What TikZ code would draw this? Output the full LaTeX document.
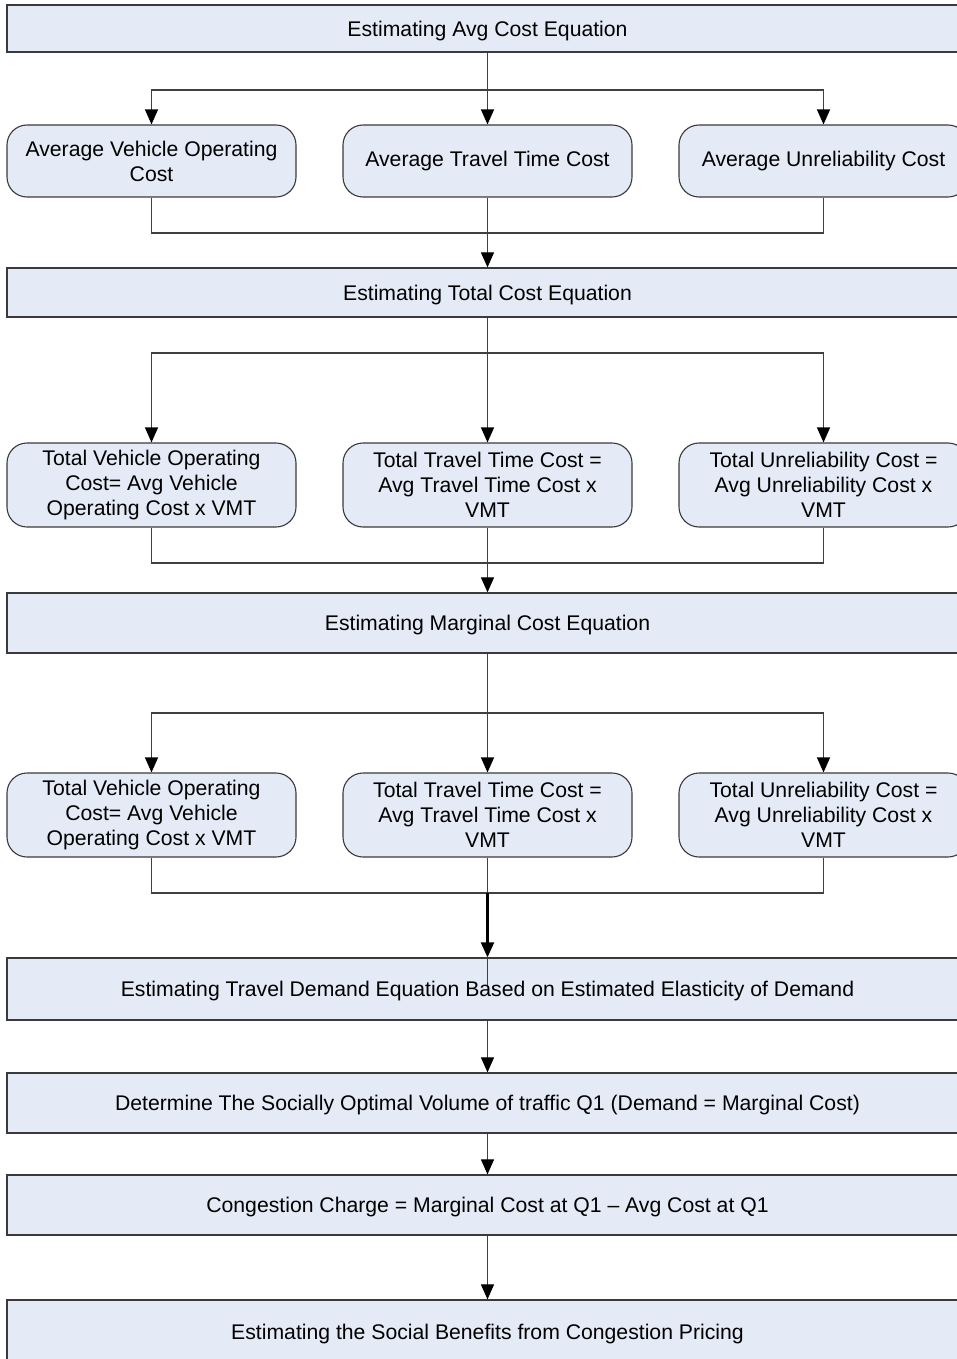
\documentclass[tikz,border=0pt]{standalone}
\usepackage{fontspec}
\setmainfont{Liberation Sans}
\usetikzlibrary{arrows.meta}
\definecolor{boxfill}{HTML}{E4EBF6}
\definecolor{boxline}{HTML}{3A3A3A}
\definecolor{conn}{HTML}{404040}
\begin{document}
\begin{tikzpicture}[x=1pt,y=-1pt,
  every node/.style={font=\fontsize{21.2}{25}\selectfont, text=black},
  rectbox/.style={draw=boxline, fill=boxfill, line width=1.3pt, rectangle, minimum width=961pt, inner sep=0pt, text depth=0pt},
  roundbox/.style={draw=boxline, fill=boxfill, line width=1.1pt, rounded corners=20pt, minimum width=289pt, inner sep=0pt, align=center},
  link/.style={draw=conn, line width=1.2pt},
  arr/.style={link, -{Triangle[width=13pt,length=15pt,black]}},
  thickarr/.style={draw=black, line width=2.2pt, -{Triangle[width=13pt,length=15pt,black]}}
]
\useasboundingbox (0,0) rectangle (957,1359);

% main rectangular boxes
\node[rectbox, minimum height=47pt] (A) at (487.5,28.5) {Estimating Avg Cost Equation};
\node[rectbox, minimum height=49pt] (B) at (487.5,292.5) {Estimating Total Cost Equation};
\node[rectbox, minimum height=60pt] (C) at (487.5,623) {Estimating Marginal Cost Equation};
\node[rectbox, minimum height=62pt] (D) at (487.5,989) {Estimating Travel Demand Equation Based on Estimated Elasticity of Demand};
\node[rectbox, minimum height=60pt] (E) at (487.5,1103) {Determine The Socially Optimal Volume of traffic Q1 (Demand = Marginal Cost)};
\node[rectbox, minimum height=60pt] (F) at (487.5,1205) {Congestion Charge = Marginal Cost at Q1 -- Avg Cost at Q1};
\node[rectbox, minimum height=64pt] (G) at (487.5,1332) {Estimating the Social Benefits from Congestion Pricing};

% row 1
\node[roundbox, minimum height=72pt] (r1a) at (151.5,161) {Average Vehicle Operating\\Cost};
\node[roundbox, minimum height=72pt] (r1b) at (487.5,161) {Average Travel Time Cost};
\node[roundbox, minimum height=72pt] (r1c) at (823.5,161) {Average Unreliability Cost};

% row 2
\node[roundbox, minimum height=84pt] (r2a) at (151.5,485) {Total Vehicle Operating\\Cost= Avg Vehicle\\Operating Cost x VMT};
\node[roundbox, minimum height=84pt] (r2b) at (487.5,485) {Total Travel Time Cost =\\Avg Travel Time Cost x\\VMT};
\node[roundbox, minimum height=84pt] (r2c) at (823.5,485) {Total Unreliability Cost =\\Avg Unreliability Cost x\\VMT};

% row 3
\node[roundbox, minimum height=84pt] (r3a) at (151.5,815) {Total Vehicle Operating\\Cost= Avg Vehicle\\Operating Cost x VMT};
\node[roundbox, minimum height=84pt] (r3b) at (487.5,815) {Total Travel Time Cost =\\Avg Travel Time Cost x\\VMT};
\node[roundbox, minimum height=84pt] (r3c) at (823.5,815) {Total Unreliability Cost =\\Avg Unreliability Cost x\\VMT};

% junction coordinates
\coordinate (s1) at (487.5,90);
\coordinate (m1) at (487.5,233);
\coordinate (s2) at (487.5,353);
\coordinate (m2) at (487.5,563);
\coordinate (s3) at (487.5,713);
\coordinate (m3) at (487.5,893);
\coordinate (din) at (487.5,985);

% split 1
\draw[link] (A.south) -- (s1);
\draw[arr] (s1) -| (r1a.north);
\draw[arr] (s1) -- (r1b.north);
\draw[arr] (s1) -| (r1c.north);
% merge 1
\draw[link] (r1a.south) |- (m1);
\draw[link] (r1c.south) |- (m1);
\draw[link] (r1b.south) -- (m1);
\draw[arr] (m1) -- (B.north);

% split 2
\draw[link] (B.south) -- (s2);
\draw[arr] (s2) -| (r2a.north);
\draw[arr] (s2) -- (r2b.north);
\draw[arr] (s2) -| (r2c.north);
% merge 2
\draw[link] (r2a.south) |- (m2);
\draw[link] (r2c.south) |- (m2);
\draw[link] (r2b.south) -- (m2);
\draw[arr] (m2) -- (C.north);

% split 3
\draw[link] (C.south) -- (s3);
\draw[arr] (s3) -| (r3a.north);
\draw[arr] (s3) -- (r3b.north);
\draw[arr] (s3) -| (r3c.north);
% merge 3
\draw[link] (r3a.south) |- (m3);
\draw[link] (r3c.south) |- (m3);
\draw[link] (r3b.south) -- (m3);
\draw[thickarr] (m3) -- (D.north);
\draw[link] (D.north) -- (din);

% chain
\draw[arr] (D.south) -- (E.north);
\draw[arr] (E.south) -- (F.north);
\draw[arr] (F.south) -- (G.north);
\end{tikzpicture}
\end{document}
